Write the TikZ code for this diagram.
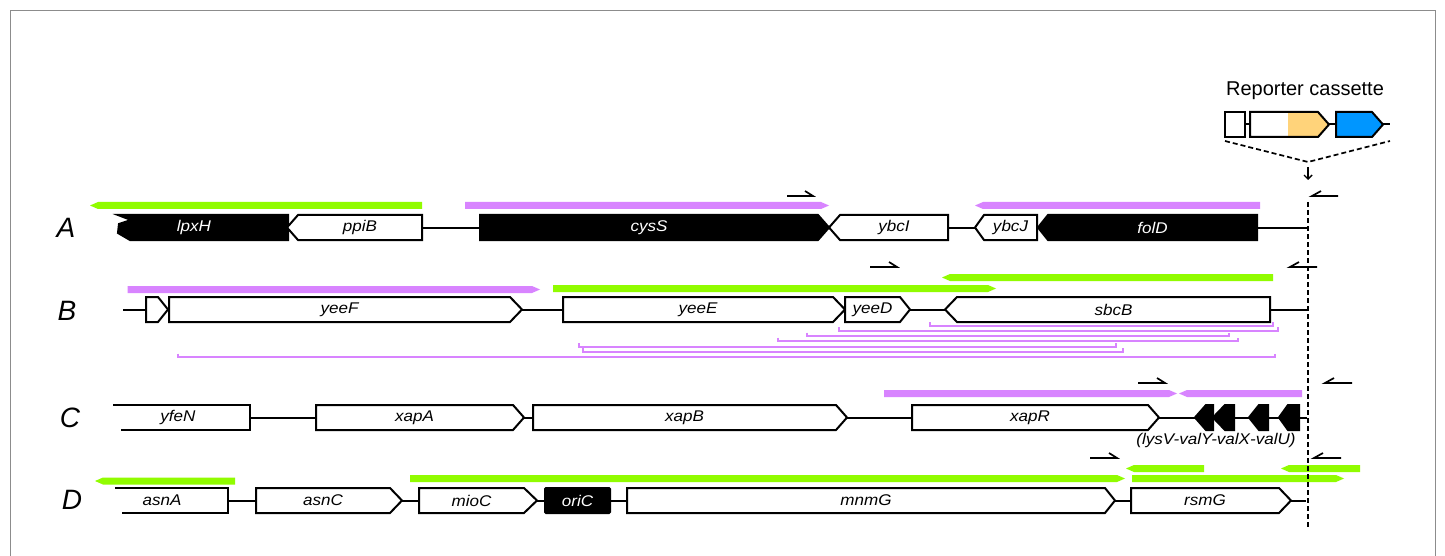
\documentclass[tikz,border=0pt]{standalone}
\usepackage{fontspec}
\setmainfont{Liberation Sans}
\newfontfamily\genefont[FakeStretch=1.1]{Liberation Sans}
\usetikzlibrary{arrows.meta}
\definecolor{barpurple}{RGB}{216,132,255}
\definecolor{bargreen}{RGB}{145,252,0}
\definecolor{cassorange}{RGB}{255,211,122}
\definecolor{cassblue}{RGB}{0,150,255}
\tikzset{
  genebox/.style={draw=black, line width=2pt, line join=miter, fill=white},
  geneblack/.style={draw=black, line width=2pt, line join=miter, fill=black},
  backbone/.style={line width=2pt},
  genelabel/.style={font=\genefont\itshape\fontsize{15.5}{17}\selectfont, inner sep=0pt},
  rowlabel/.style={font=\itshape\fontsize{28}{30}\selectfont, inner sep=0pt},
  primer/.style={line width=1.7pt, line join=miter},
  fragline/.style={line width=2pt, draw=barpurple},
  insertline/.style={line width=1.7pt, dash pattern=on 5pt off 3pt},
  framecol/.style={draw=black!45, line width=0.8pt},
}
% gene pointing right: name, style, left x, shoulder x, tip x, centre y, label, label options
\newcommand{\geneR}[8]{%
  \draw[#2] (#3,{#6-12.5}) -- (#4,{#6-12.5}) -- (#5,#6) -- (#4,{#6+12.5}) -- (#3,{#6+12.5}) -- cycle;
  \node[genelabel,#8] (#1) at ({(#3+#4)/2},#6) {#7};}
% gene pointing left: name, style, tip x, shoulder x, right x, centre y, label, label options
\newcommand{\geneL}[8]{%
  \draw[#2] (#3,#6) -- (#4,{#6-12.5}) -- (#5,{#6-12.5}) -- (#5,{#6+12.5}) -- (#4,{#6+12.5}) -- cycle;
  \node[genelabel,#8] (#1) at ({(#4+#5)/2},#6) {#7};}
% thick fragment bars: colour, left x, right x, centre y
\newcommand{\barR}[4]{%
  \fill[#1] (#2,{#4-3.5}) -- ({#3-8},{#4-3.5}) -- (#3,#4) -- ({#3-8},{#4+3.5}) -- (#2,{#4+3.5}) -- cycle;}
\newcommand{\barL}[4]{%
  \fill[#1] (#2,#4) -- ({#2+8},{#4-3.5}) -- (#3,{#4-3.5}) -- (#3,{#4+3.5}) -- ({#2+8},{#4+3.5}) -- cycle;}
% thin bracketed fragments: left x, right x, y
\newcommand{\fragspan}[3]{%
  \draw[fragline] (#1,{#3-3.5}) -- (#1,#3) -- (#2,#3) -- (#2,{#3-3.5});}
% primers (half arrows): left x, right x, y
\newcommand{\primerR}[3]{\draw[primer] (#1,#3) -- (#2,#3) -- ({#2-8},{#3-5});}
\newcommand{\primerL}[3]{\draw[primer] (#2,#3) -- (#1,#3) -- ({#1+9},{#3-5});}

\begin{document}
\begin{tikzpicture}[x=1pt,y=-1pt]
\useasboundingbox (0,0) rectangle (1445,556);
\fill[white] (0,0) rectangle (1445,556);
% frame
\draw[framecol] (10,556) -- (10,10) -- (1435,10) -- (1435,556);

% ---------------- reporter cassette ----------------
\node[font=\fontsize{20}{22}\selectfont, inner sep=0pt, anchor=base] (cassette) at (1305,96) {Reporter cassette};
\draw[backbone] (1245,124.5) -- (1250,124.5);
\draw[backbone] (1329,124.5) -- (1336,124.5);
\draw[backbone] (1383,124.5) -- (1390,124.5);
\draw[genebox] (1225,112) rectangle (1245,137);
\fill[white] (1250,112) rectangle (1290,137);
\fill[cassorange] (1288,112) -- (1318,112) -- (1329,124.5) -- (1318,137) -- (1288,137) -- cycle;
\draw[line width=2pt, line join=miter] (1250,112) -- (1318,112) -- (1329,124.5) -- (1318,137) -- (1250,137) -- cycle;
\draw[genebox, fill=cassblue] (1336,112) -- (1372,112) -- (1383,124.5) -- (1372,137) -- (1336,137) -- cycle;
\coordinate (insApex) at (1308,162);
\draw[insertline] (1225,141) -- (insApex) -- (1390,141);
\coordinate (arrTop) at (1308,167);
\coordinate (arrBot) at (1308,180);
\draw[line width=1.4pt, -{Straight Barb[length=4pt,width=8pt]}] (arrTop) -- (arrBot);

% insertion site
\coordinate (insTop) at (1308,202);
\coordinate (insBot) at (1308,528);

% ---------------- row A ----------------
\node[rowlabel] (rowA) at (66,228) {A};
\draw[backbone] (288,227.5) -- (1308,227.5);
\barL{bargreen}{90}{422}{205.5}
\barR{barpurple}{465}{829}{205.5}
\barL{barpurple}{975}{1260}{205.5}
\primerR{787}{813}{196}
\primerL{1312}{1338}{196}
\draw[geneblack] (118,215) -- (288,215) -- (288,240) -- (130,240) -- (118,233) -- (119,224) -- (131,220) -- cycle;
\node[genelabel, text=white] (lpxH) at (194,227.5) {lpxH};
\geneL{ppiB}{genebox}{287}{298}{422}{227.5}{ppiB}{}
\geneR{cysS}{geneblack}{480}{818}{829}{227.5}{cysS}{text=white}
\geneL{ybcI}{genebox}{829}{840}{948}{227.5}{ybcI}{}
\geneL{ybcJ}{genebox}{975}{984}{1037}{227.5}{ybcJ}{}
\geneL{folD}{geneblack}{1038}{1048}{1257}{227.5}{folD}{text=white}

% ---------------- row B ----------------
\node[rowlabel] (rowB) at (67,311) {B};
\draw[backbone] (123,309.5) -- (1308,309.5);
\barR{barpurple}{127.5}{540}{289.5}
\barR{bargreen}{553}{996}{288.5}
\barL{bargreen}{942}{1273}{277.5}
\primerR{870}{897}{267}
\primerL{1290}{1317}{267}
\geneR{smallB}{genebox}{146}{158}{168}{309.5}{}{}
\geneR{yeeF}{genebox}{169}{510}{522}{309.5}{yeeF}{}
\geneR{yeeE}{genebox}{563}{833}{845}{309.5}{yeeE}{}
\geneR{yeeD}{genebox}{845}{900}{910}{309.5}{yeeD}{}
\geneL{sbcB}{genebox}{945}{957}{1270}{309.5}{sbcB}{}
\fragspan{930}{1273}{325.5}
\fragspan{839}{1278}{330.5}
\fragspan{807}{1229}{336}
\fragspan{778}{1238}{341}
\fragspan{579}{1116}{346.5}
\fragspan{583}{1123}{351.5}
\fragspan{178}{1275}{357}

% ---------------- row C ----------------
\node[rowlabel] (rowC) at (70,418) {C};
\draw[backbone] (250,417.5) -- (1307,417.5);
\barR{barpurple}{884}{1177}{393.5}
\barL{barpurple}{1179}{1302}{393.5}
\primerR{1138}{1165}{383}
\primerL{1325}{1352}{383}
\fill[white] (113,405) rectangle (250,430);
\draw[line width=2pt, line join=miter] (113,405) -- (250,405) -- (250,430) -- (121,430);
\node[genelabel] (yfeN) at (178,417.5) {yfeN};
\geneR{xapA}{genebox}{316}{513}{524}{417.5}{xapA}{}
\geneR{xapB}{genebox}{533}{836}{847}{417.5}{xapB}{}
\geneR{xapR}{genebox}{912}{1148}{1159}{417.5}{xapR}{}
\geneL{lysV}{geneblack}{1195}{1206}{1213}{417.5}{}{}
\geneL{valY}{geneblack}{1213}{1225}{1234}{417.5}{}{}
\geneL{valX}{geneblack}{1249}{1259}{1268}{417.5}{}{}
\geneL{valU}{geneblack}{1279}{1288}{1299}{417.5}{}{}
\node[genelabel] (tRNA) at (1216,440) {(lysV-valY-valX-valU)};

% ---------------- row D ----------------
\node[rowlabel] (rowD) at (72,500) {D};
\draw[backbone] (228,500.5) -- (1306,500.5);
\barL{bargreen}{95}{235}{481}
\barR{bargreen}{410}{1125}{478.5}
\barL{bargreen}{1126}{1204}{468.5}
\barR{bargreen}{1132}{1344}{478.5}
\barL{bargreen}{1281}{1360}{468.5}
\primerR{1090}{1117}{458}
\primerL{1314}{1341}{458}
\fill[white] (115,488) rectangle (228,513);
\draw[line width=2pt, line join=miter] (115,488) -- (228,488) -- (228,513) -- (122,513);
\node[genelabel] (asnA) at (162,500.5) {asnA};
\geneR{asnC}{genebox}{256}{390}{402}{500.5}{asnC}{}
\geneR{mioC}{genebox}{419}{524}{537}{500.5}{mioC}{}
\draw[geneblack, rounded corners=1pt] (545,488) rectangle (610,513);
\node[genelabel, text=white] (oriC) at (577.5,500.5) {oriC};
\geneR{mnmG}{genebox}{627}{1105}{1115}{500.5}{mnmG}{}
\geneR{rsmG}{genebox}{1131}{1279}{1291}{500.5}{rsmG}{}

% insertion site line on top
\draw[insertline] (insTop) -- (insBot);
\end{tikzpicture}
\end{document}
